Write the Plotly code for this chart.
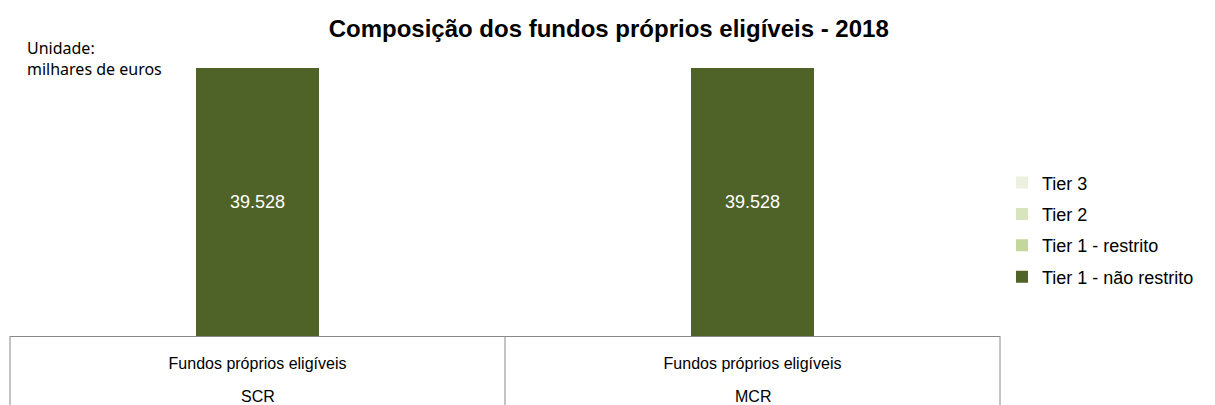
import plotly.graph_objects as go

categories = ["SCR", "MCR"]
tick_labels = ["Fundos próprios eligíveis", "Fundos próprios eligíveis"]
series_names = ["Tier 1 - não restrito", "Tier 1 - restrito", "Tier 2", "Tier 3"]
tier1_nr = [39528, 39528]
tier1_r = [0, 0]
tier2 = [0, 0]
tier3 = [0, 0]
colors = ["#4F6228", "#C3D69B", "#D7E4BD", "#EBF1DE"]

fig = go.Figure()
for i, (name, vals) in enumerate(zip(series_names, [tier1_nr, tier1_r, tier2, tier3])):
    fig.add_trace(go.Bar(
        x=categories, y=vals, name=name, marker_color=colors[i],
        marker_line_width=0, legendgroup=name, legendrank=1000 - i,
        texttemplate="%{y:,.0f}" if i == 0 else "",
        textposition="inside", insidetextanchor="middle",
        textfont=dict(color="white", size=18, family="Arial"),
        width=0.25,
    ))

fig.update_layout(
    barmode="stack",
    separators=",.",
    width=1215, height=405,
    margin=dict(l=10, r=215, t=68, b=69),
    paper_bgcolor="white", plot_bgcolor="white",
    title=dict(text="<b>Composição dos fundos próprios eligíveis - 2018</b>",
               x=0.501, xref="container", y=1 - 29 / 405, yref="container",
               xanchor="center", yanchor="middle",
               font=dict(family="Arial", size=24, color="black")),
    legend=dict(x=1.002, y=0.396, xanchor="left", yanchor="middle",
                traceorder="grouped", tracegroupgap=5,
                font=dict(family="Arial", size=18, color="black")),
    showlegend=True,
    font=dict(family="Arial", size=13, color="black"),
)
fig.update_yaxes(range=[0, 39528], visible=False)
fig.update_xaxes(showline=True, linecolor="#888888", linewidth=1, automargin=False,
                 tickmode="array", tickvals=categories, ticktext=tick_labels,
                 ticks="outside", ticklen=13, tickcolor="rgba(0,0,0,0)",
                 tickfont=dict(family="Arial", size=16, color="black"))

# category box separators
for xp in [0.0, 0.5, 1.0]:
    fig.add_shape(type="line", xref="paper", yref="paper", x0=xp, x1=xp, y0=0, y1=-0.3,
                  line=dict(color="#888888", width=1))

# second row of category labels
for c in categories:
    fig.add_annotation(text=c, x=c, xref="x", yref="paper", y=-(396 - 336) / 268,
                       yanchor="middle", showarrow=False,
                       font=dict(family="Arial", size=16, color="black"))

fig.add_annotation(text="Unidade:<br>milhares de euros", xref="paper", yref="paper",
                   x=0.015, y=(336 - 58.5) / 268, xanchor="left", yanchor="middle", align="left",
                   showarrow=False, font=dict(family="Noto Sans", size=16, color="black"))

fig.write_html("out.html")
